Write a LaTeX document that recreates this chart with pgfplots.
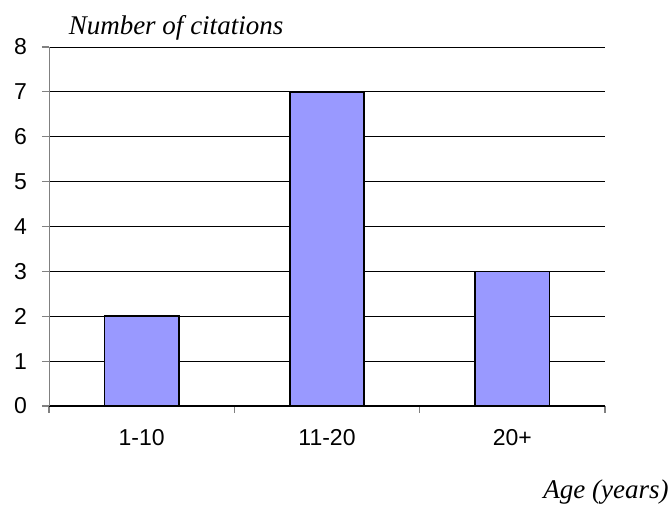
\documentclass[border=0pt]{standalone}
\usepackage{pgfplots}
\pgfplotsset{compat=1.18}
\usepackage{fontspec}
\setmainfont{Liberation Serif}
\newfontfamily\arialfont{Liberation Sans}
\definecolor{barblue}{HTML}{9999FF}
\begin{document}
\begin{tikzpicture}[x=1pt,y=1pt]
\path[use as bounding box] (0,0) rectangle (335,257);
\begin{axis}[
  at={(24.5pt,54pt)}, anchor=south west,
  scale only axis, width=278pt, height=179.5pt,
  xmin=-0.5, xmax=2.5, ymin=0, ymax=8,
  axis lines*=left, axis line style={-},
  y axis line style={draw=gray},
  x axis line style={draw=black},
  xtick={0,1,2}, xticklabels={1-10,11-20,20+},
  minor xtick={-0.5,0.5,1.5,2.5},
  ytick={0,...,8},
  tick align=outside,
  major x tick style={draw=none},
  minor x tick style={draw=gray, line width=0.6pt},
  minor tick length=3.5pt,
  major tick length=3.5pt,
  y tick style={draw=gray, line width=0.6pt},
  ymajorgrids, grid style={black, line width=0.5pt},
  tick label style={font=\arialfont\fontsize{11.5}{13}\selectfont},
  /pgf/number format/assume math mode=true,
  yticklabel style={xshift=-4pt},
  xticklabel style={yshift=-4.5pt},
  clip=false,
]
\addplot[ybar, bar width=0.4, fill=barblue, draw=black, line width=0.8pt]
  coordinates {(0,2) (1,7) (2,3)};
\end{axis}
\node[font=\itshape\fontsize{13.5}{15}\selectfont] at (88,243) {Number of citations};
\node[font=\itshape\fontsize{13.5}{15}\selectfont] at (303,11) {Age (years)};
\end{tikzpicture}
\end{document}
